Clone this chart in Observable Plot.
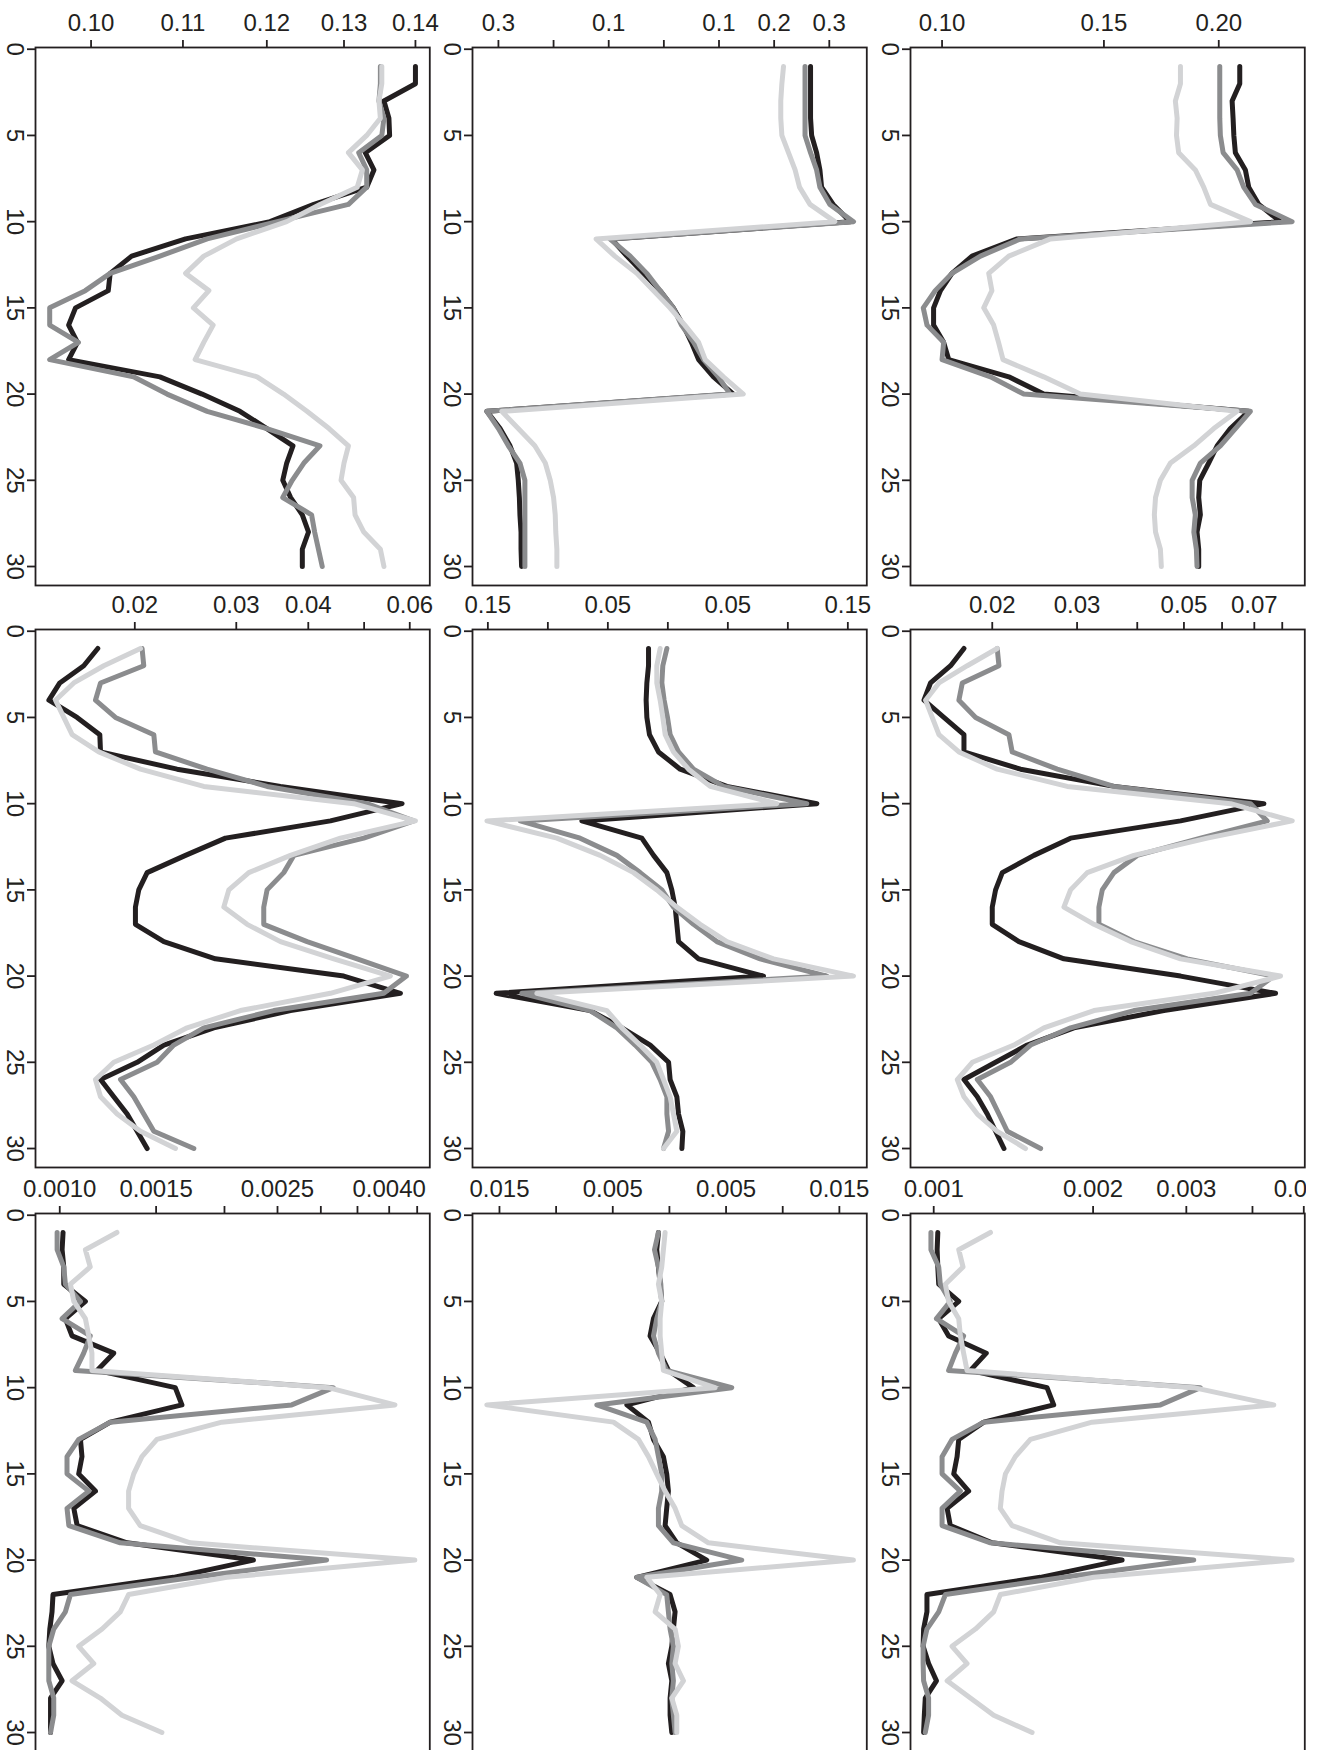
<!DOCTYPE html>
<html>
<head>
<meta charset="utf-8">
<script src="https://cdn.jsdelivr.net/npm/d3@7"></script>
<script src="https://cdn.jsdelivr.net/npm/@observablehq/plot@0.6"></script>
<style>
  html, body { margin: 0; padding: 0; background: #fff; }
  #fig { position: relative; width: 1323px; height: 1750px; overflow: hidden; background: #fff; }
</style>
</head>
<body>
<div id="fig"></div>
<script>
// ---- shared index (vertical axis) ----
const steps = d3.range(1, 31);
const stepTicks = [0, 5, 10, 15, 20, 25, 30];

// ---- row 1, column 1 ----
const r1c1Black = [0.1400,0.1400,0.1355,0.1362,0.1363,0.1329,0.1341,0.1331,0.1260,0.1204,0.1103,0.1043,0.1020,0.1018,0.0984,0.0977,0.0986,0.0977,0.1074,0.1122,0.1167,0.1200,0.1233,0.1225,0.1220,0.1230,0.1245,0.1253,0.1245,0.1245];
const r1c1Gray  = [0.1350,0.1350,0.1348,0.1355,0.1352,0.1320,0.1331,0.1331,0.1306,0.1213,0.1128,0.1074,0.1020,0.0994,0.0958,0.0958,0.0987,0.0958,0.1045,0.1082,0.1128,0.1200,0.1268,0.1247,0.1232,0.1220,0.1257,0.1261,0.1266,0.1271];
const r1c1Light = [0.1352,0.1352,0.1348,0.1350,0.1331,0.1306,0.1325,0.1318,0.1268,0.1225,0.1163,0.1124,0.1103,0.1130,0.1112,0.1135,0.1124,0.1114,0.1188,0.1221,0.1251,0.1280,0.1306,0.1300,0.1296,0.1313,0.1315,0.1327,0.1350,0.1355];
const r1c1Ticks  = [0.10, 0.11, 0.12, 0.13, 0.14];
const r1c1Labels = ["0.10", "0.11", "0.12", "0.13", "0.14"];

// ---- row 1, column 2 ----
const r1c2Black = [0.266,0.266,0.266,0.266,0.268,0.277,0.283,0.286,0.307,0.338,-0.095,-0.067,-0.037,-0.007,0.017,0.035,0.050,0.063,0.090,0.126,-0.321,-0.297,-0.279,-0.267,-0.264,-0.262,-0.261,-0.259,-0.259,-0.258];
const r1c2Gray  = [0.256,0.256,0.256,0.256,0.256,0.266,0.277,0.283,0.301,0.344,-0.098,-0.061,-0.031,-0.007,0.017,0.032,0.054,0.072,0.099,0.120,-0.321,-0.300,-0.282,-0.261,-0.252,-0.252,-0.252,-0.252,-0.252,-0.252];
const r1c2Light = [0.217,0.214,0.212,0.212,0.214,0.226,0.238,0.246,0.265,0.310,-0.123,-0.089,-0.049,-0.019,0.011,0.038,0.063,0.075,0.108,0.144,-0.294,-0.264,-0.234,-0.215,-0.206,-0.200,-0.197,-0.196,-0.194,-0.194];
const r1c2Ticks  = [-0.3, -0.2, -0.1, 0, 0.1, 0.2, 0.3];
const r1c2Labels = ["0.3", "", "0.1", "", "0.1", "0.2", "0.3"];

// ---- row 1, column 3 ----
const r1c3Black = [0.2108,0.2108,0.2068,0.2073,0.2077,0.2085,0.2138,0.2156,0.2211,0.2334,0.1207,0.1078,0.1025,0.0996,0.0979,0.0979,0.1004,0.1017,0.1182,0.1290,0.2156,0.2059,0.1992,0.1950,0.1907,0.1902,0.1910,0.1894,0.1902,0.1902];
const r1c3Gray  = [0.2005,0.2005,0.2005,0.2005,0.2008,0.2022,0.2094,0.2129,0.2192,0.2403,0.1217,0.1101,0.1025,0.0983,0.0954,0.0963,0.1004,0.1000,0.1129,0.1227,0.2165,0.2085,0.2008,0.1910,0.1871,0.1871,0.1886,0.1879,0.1891,0.1894];
const r1c3Light = [0.1817,0.1817,0.1794,0.1802,0.1799,0.1809,0.1886,0.1926,0.1959,0.2165,0.1312,0.1182,0.1124,0.1133,0.1110,0.1138,0.1152,0.1165,0.1290,0.1414,0.2094,0.1975,0.1879,0.1772,0.1728,0.1707,0.1702,0.1707,0.1728,0.1732];
const r1c3Ticks  = [0.10, 0.15, 0.20];
const r1c3Labels = ["0.10", "0.15", "0.20"];

// ---- row 2, column 1 ----
const r2c1Black = [0.01725,0.01631,0.01482,0.01419,0.01588,0.01739,0.01744,0.02368,0.03579,0.05819,0.04370,0.02873,0.02449,0.02101,0.02032,0.02005,0.02005,0.02246,0.02760,0.04609,0.05780,0.03725,0.02742,0.02246,0.02019,0.01744,0.01839,0.01940,0.02019,0.02101];
const r2c1Gray  = [0.02059,0.02073,0.01744,0.01709,0.01851,0.02158,0.02172,0.02670,0.03393,0.05059,0.06096,0.04992,0.03775,0.03627,0.03393,0.03348,0.03348,0.03981,0.04861,0.05921,0.05408,0.03485,0.02635,0.02337,0.02187,0.01889,0.01992,0.02073,0.02158,0.02532];
const r2c1Light = [0.02046,0.01767,0.01567,0.01457,0.01506,0.01557,0.01732,0.02046,0.02635,0.04797,0.06137,0.04548,0.03725,0.03154,0.02912,0.02854,0.03133,0.03579,0.04429,0.05553,0.04370,0.03050,0.02465,0.02158,0.01839,0.01709,0.01744,0.01864,0.02046,0.02353];
const r2c1Ticks  = [0.02, 0.03, 0.04, 0.05, 0.06];
const r2c1Labels = ["0.02", "0.03", "0.04", "", "0.06"];

// ---- row 2, column 2 ----
const r2c2Black = [-0.0161,-0.0161,-0.0175,-0.0181,-0.0175,-0.0153,-0.0078,0.0103,0.0492,0.1242,-0.0717,-0.0217,-0.0119,-0.0008,0.0033,0.0061,0.0075,0.0089,0.0256,0.0797,-0.1431,-0.0647,-0.0383,-0.0147,0.0006,0.0019,0.0075,0.0089,0.0125,0.0117];
const r2c2Gray  = [-0.0008,-0.0042,-0.0050,-0.0031,-0.0003,0.0019,0.0089,0.0214,0.0464,0.1158,-0.1231,-0.0731,-0.0425,-0.0231,-0.0050,0.0047,0.0214,0.0408,0.0769,0.1325,-0.1217,-0.0647,-0.0425,-0.0272,-0.0133,-0.0064,-0.0008,-0.0008,0.0006,-0.0036];
const r2c2Light = [-0.0064,-0.0092,-0.0092,-0.0064,-0.0042,-0.0022,0.0047,0.0172,0.0353,0.0908,-0.1508,-0.0925,-0.0564,-0.0286,-0.0092,0.0075,0.0269,0.0492,0.0881,0.1547,-0.1092,-0.0508,-0.0383,-0.0231,-0.0092,-0.0036,0.0019,0.0047,0.0075,-0.0036];
const r2c2Ticks  = [-0.15, -0.10, -0.05, 0, 0.05, 0.10, 0.15];
const r2c2Labels = ["0.15", "", "0.05", "", "0.05", "", "0.15"];

// ---- row 2, column 3 ----
const r2c3Black = [0.01747,0.01639,0.01489,0.01443,0.01587,0.01747,0.01747,0.02290,0.03578,0.07328,0.04920,0.02908,0.02441,0.02098,0.02032,0.02000,0.02000,0.02272,0.02817,0.04920,0.07748,0.04543,0.02955,0.02364,0.02032,0.01747,0.01862,0.01953,0.02032,0.02115];
const r2c3Gray  = [0.02048,0.02065,0.01733,0.01705,0.01847,0.02166,0.02200,0.02729,0.03578,0.06876,0.07445,0.05413,0.04000,0.03578,0.03384,0.03330,0.03330,0.03937,0.05080,0.07687,0.06876,0.03937,0.02908,0.02402,0.02183,0.01862,0.01984,0.02065,0.02149,0.02520];
const r2c3Light = [0.02048,0.01775,0.01550,0.01454,0.01501,0.01550,0.01705,0.02048,0.02862,0.06249,0.08390,0.05589,0.03937,0.03150,0.02908,0.02817,0.03252,0.03875,0.04920,0.07935,0.05770,0.03252,0.02560,0.02218,0.01818,0.01692,0.01747,0.01862,0.02048,0.02345];
const r2c3Ticks  = [0.02, 0.03, 0.04, 0.05, 0.06, 0.07, 0.08];
const r2c3Labels = ["0.02", "0.03", "", "0.05", "", "0.07", ""];

// ---- row 3, column 1 ----
const r3c1Black = [0.001014,0.001010,0.001017,0.001017,0.001114,0.001024,0.001053,0.001255,0.001170,0.001626,0.001672,0.001237,0.001091,0.001098,0.001083,0.001162,0.001061,0.001076,0.001327,0.002259,0.001614,0.000972,0.000968,0.000959,0.000955,0.000972,0.001010,0.000962,0.000962,0.000962];
const r3c1Gray  = [0.000989,0.000989,0.001017,0.001024,0.001091,0.001010,0.001137,0.001106,0.001068,0.003162,0.002654,0.001237,0.001083,0.001031,0.001031,0.001130,0.001031,0.001039,0.001290,0.003074,0.001756,0.001046,0.001024,0.000975,0.000955,0.000955,0.000955,0.000975,0.000975,0.000962];
const r3c1Light = [0.001272,0.001114,0.001137,0.001046,0.001061,0.001114,0.001130,0.001145,0.001145,0.003096,0.004097,0.001978,0.001505,0.001413,0.001365,0.001336,0.001336,0.001403,0.001731,0.004456,0.002020,0.001336,0.001290,0.001195,0.001083,0.001154,0.001053,0.001186,0.001299,0.001537];
const r3c1Ticks  = [0.0010, 0.0015, 0.0020, 0.0025, 0.0030, 0.0035, 0.0040, 0.0045];
const r3c1Labels = ["0.0010", "0.0015", "", "0.0025", "", "", "0.0040", ""];

// ---- row 3, column 2 ----
const r3c2Black = [-0.00097,-0.00112,-0.00097,-0.00082,-0.00068,-0.00141,-0.00171,-0.00082,-0.00009,0.00212,-0.00376,-0.00185,-0.00141,-0.00053,-0.00024,-0.00009,-0.00024,-0.00038,0.00065,0.00329,-0.00288,0.00006,0.00050,0.00035,0.00021,-0.00009,0.00021,0.00006,0.00006,0.00021];
const r3c2Gray  = [-0.00097,-0.00132,-0.00097,-0.00076,-0.00068,-0.00112,-0.00141,-0.00097,-0.00024,0.00550,-0.00641,-0.00200,-0.00126,-0.00097,-0.00068,-0.00068,-0.00097,-0.00097,0.00035,0.00638,-0.00288,-0.00024,-0.00009,0.00006,0.00035,0.00021,0.00035,0.00021,0.00035,0.00050];
const r3c2Light = [-0.00038,-0.00053,-0.00068,-0.00097,-0.00068,-0.00082,-0.00082,-0.00068,-0.00053,0.00403,-0.01612,-0.00494,-0.00274,-0.00185,-0.00112,-0.00038,0.00050,0.00109,0.00344,0.01624,-0.00200,-0.00082,-0.00126,0.00050,0.00079,0.00050,0.00124,0.00021,0.00065,0.00065];
const r3c2Ticks  = [-0.015, -0.010, -0.005, 0, 0.005, 0.010, 0.015];
const r3c2Labels = ["0.015", "", "0.005", "", "0.005", "", "0.015"];

// ---- row 3, column 3 ----
const r3c3Black = [0.001018,0.001015,0.001018,0.001022,0.001115,0.001022,0.001067,0.001257,0.001173,0.001637,0.001685,0.001243,0.001115,0.001107,0.001091,0.001164,0.001060,0.001075,0.001289,0.002269,0.001590,0.000971,0.000971,0.000957,0.000955,0.000978,0.001012,0.000964,0.000960,0.000957];
const r3c3Gray  = [0.000988,0.000988,0.001022,0.001029,0.001075,0.001012,0.001139,0.001099,0.001067,0.003189,0.002680,0.001243,0.001083,0.001037,0.001037,0.001123,0.001037,0.001037,0.001280,0.003099,0.001760,0.001052,0.001022,0.000971,0.000955,0.000955,0.000957,0.000978,0.000978,0.000964];
const r3c3Light = [0.001280,0.001115,0.001136,0.001052,0.001067,0.001115,0.001123,0.001139,0.001156,0.003099,0.004388,0.001991,0.001523,0.001426,0.001366,0.001346,0.001336,0.001406,0.001735,0.004753,0.002006,0.001336,0.001298,0.001199,0.001083,0.001156,0.001060,0.001173,0.001298,0.001534];
const r3c3Ticks  = [0.001, 0.002, 0.003, 0.004, 0.005];
const r3c3Labels = ["0.001", "0.002", "0.003", "", "0.005"];

// ---- panel table (built from the arrays above) ----
const panels = [
  {row: 0, col: 0, type: "log",    domain: [0.0944, 0.1421],   ticks: r1c1Ticks, labels: r1c1Labels, series: [r1c1Black, r1c1Gray, r1c1Light]},
  {row: 0, col: 1, type: "linear", domain: [-0.347, 0.368],    ticks: r1c2Ticks, labels: r1c2Labels, series: [r1c2Black, r1c2Gray, r1c2Light]},
  {row: 0, col: 2, type: "log",    domain: [0.0924, 0.2481],   ticks: r1c3Ticks, labels: r1c3Labels, series: [r1c3Black, r1c3Gray, r1c3Light]},
  {row: 1, col: 0, type: "log",    domain: [0.01345, 0.0650],  ticks: r2c1Ticks, labels: r2c1Labels, series: [r2c1Black, r2c1Gray, r2c1Light]},
  {row: 1, col: 1, type: "linear", domain: [-0.1628, 0.1658],  ticks: r2c2Ticks, labels: r2c2Labels, series: [r2c2Black, r2c2Gray, r2c2Light]},
  {row: 1, col: 2, type: "log",    domain: [0.01353, 0.0891],  ticks: r2c3Ticks, labels: r2c3Labels, series: [r2c3Black, r2c3Gray, r2c3Light]},
  {row: 2, col: 0, type: "log",    domain: [0.000903, 0.004745], ticks: r3c1Ticks, labels: r3c1Labels, series: [r3c1Black, r3c1Gray, r3c1Light]},
  {row: 2, col: 1, type: "linear", domain: [-0.01738, 0.01742], ticks: r3c2Ticks, labels: r3c2Labels, series: [r3c2Black, r3c2Gray, r3c2Light]},
  {row: 2, col: 2, type: "log",    domain: [0.000904, 0.005022], ticks: r3c3Ticks, labels: r3c3Labels, series: [r3c3Black, r3c3Gray, r3c3Light]}
];

const seriesColors = ["#231f20", "#8b8c8e", "#d2d3d5"];
const ink = "#231f20";
const colLeft = [0, 437.3, 875];
const rowTop = [1, 583, 1167];
const frameW = 394.3;
const font = "'Liberation Sans', Arial, Helvetica, sans-serif";

const fig = document.getElementById("fig");

for (const p of panels) {
  const mR = p.col === 2 ? 2 : 10;
  const width = 35 + frameW + mR;
  const lab = new Map(p.ticks.map((t, i) => [t, p.labels[i]]));
  const lines = p.series.map((s, k) =>
    Plot.line(steps.map((t, i) => ({t, v: s[i]})), {
      x: "v", y: "t", stroke: seriesColors[k], strokeWidth: 5,
      strokeLinejoin: "round", strokeLinecap: "round"
    })
  );
  const svg = Plot.plot({
    width, height: 586,
    marginTop: 46, marginLeft: 35, marginRight: mR, marginBottom: 2,
    x: {type: p.type, domain: p.domain, label: null},
    y: {domain: [-0.1, 31.1], reverse: true, label: null},
    style: {fontFamily: font, background: "transparent", overflow: "hidden"},
    marks: [
      ...lines,
      Plot.frame({stroke: ink, strokeWidth: 1.8}),
      Plot.axisX({anchor: "top", ticks: p.ticks, tickFormat: d => lab.get(d) ?? "", label: null,
                  tickSize: 8, tickPadding: 8, fontSize: 24, color: ink, strokeWidth: 1.8}),
      Plot.axisY({anchor: "left", ticks: stepTicks, tickFormat: () => "", label: null,
                  tickSize: 8, color: ink, strokeWidth: 1.8}),
      Plot.text(stepTicks, {y: d => d, frameAnchor: "left", dx: -21, rotate: 90,
                            textAnchor: "middle", lineAnchor: "middle",
                            text: d => String(d), fontSize: 24, fill: ink})
    ]
  });
  svg.style.position = "absolute";
  svg.style.left = colLeft[p.col] + "px";
  svg.style.top = rowTop[p.row] + "px";
  svg.style.maxWidth = "none";
  fig.appendChild(svg);
}
</script>
</body>
</html>
